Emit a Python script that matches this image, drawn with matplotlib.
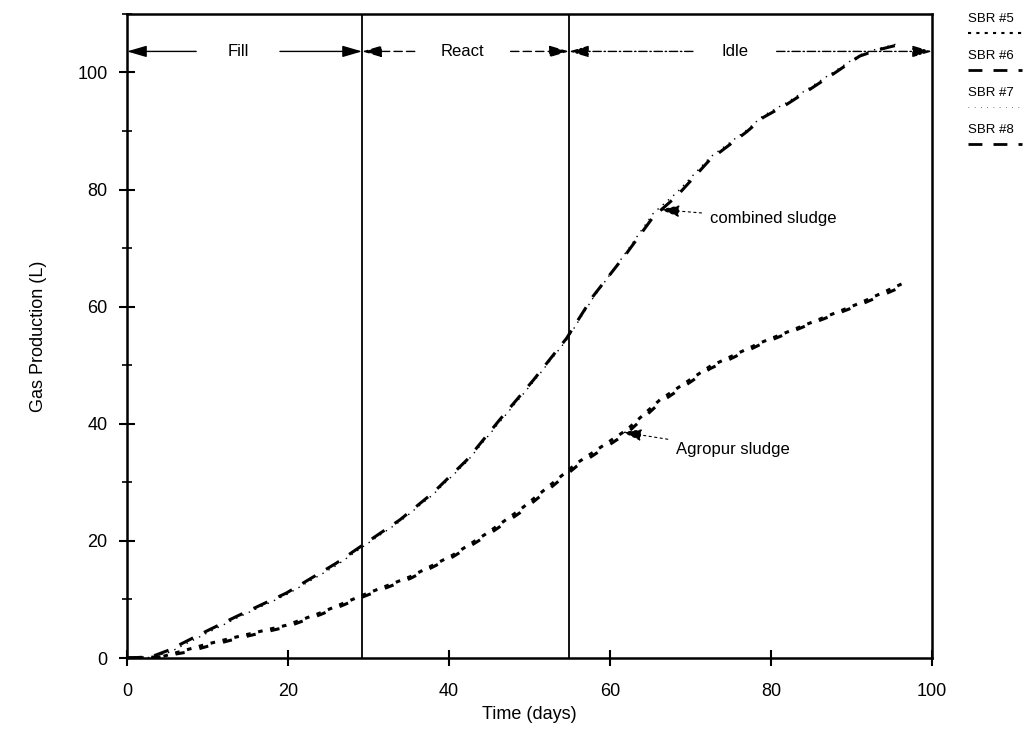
import matplotlib
matplotlib.use("Agg")
import matplotlib.pyplot as plt
from matplotlib.lines import Line2D
from matplotlib.ticker import MultipleLocator

plt.rcParams['font.family'] = ['Liberation Sans', 'DejaVu Sans']

# ---- data ----
days_comb = [0, 3, 5.3, 9, 13.6, 19.8, 26, 29.4, 33.9, 38.0, 42.2, 46.3, 50.5, 54.6, 57.9,
             62.1, 65.4, 68.3, 72.4, 77, 79, 82, 84.8, 88, 91, 93.1, 96]
sbr6 = [0, 0.2, 1.4, 4.0, 7.1, 11.1, 16.2, 19.4, 23.6, 28.2, 33.8, 40.7, 47.5, 54.6, 61.8,
        69.2, 75.4, 78.9, 85.1, 89.9, 92.3, 94.6, 97.1, 100.0, 102.8, 103.8, 104.8]
sbr8 = [0, 0.1, 1.0, 3.6, 6.8, 10.8, 15.8, 19.1, 23.3, 27.9, 33.5, 40.3, 47.2, 54.3, 61.5,
        69.5, 76.0, 79.5, 85.5, 90.2, 92.6, 94.9, 97.4, 100.3, 103.0, 104.0, 105.0]

days_agro = [0, 4, 7.4, 10, 13.6, 19.8, 24, 29.4, 35.2, 40.5, 44.7, 48.8, 52.9, 55.9,
             62.1, 66.2, 72.4, 78.6, 84.8, 91, 96.4]
sbr5 = [0, 0.1, 1.4, 2.4, 3.6, 5.6, 7.7, 10.8, 13.9, 17.6, 21.3, 25.3, 29.9, 33.3,
        39.0, 44.1, 49.8, 53.8, 57.2, 60.6, 64.0]
sbr7 = [0, 0.2, 1.0, 2.0, 3.3, 5.3, 7.4, 10.5, 13.6, 17.3, 20.9, 24.8, 29.4, 32.8,
        38.4, 43.6, 49.4, 53.5, 57.0, 60.3, 63.5]

phase_bounds = [0, 29.2, 54.9, 100]
phase_names = ['Fill', 'React', 'Idle']
phase_text_x = [13.8, 41.7, 75.5]
phase_y = 103.6

x_ticks = [0, 20, 40, 60, 80, 100]
y_ticks = [0, 20, 40, 60, 80, 100]

fig = plt.figure(figsize=(10.34, 7.34), dpi=100)
ax = fig.add_axes([0.1228, 0.1035, 0.9014 - 0.1228, 0.981 - 0.1035])

ax.plot(days_comb, sbr6, color='black', lw=2.2, ls=(0, (5, 4)))
ax.plot(days_comb, sbr8, color='black', lw=1.0, ls=(0, (1, 4)))
ax.plot(days_agro, sbr5, color='black', lw=2.2, ls=(0, (1.5, 2.5)))
ax.plot(days_agro, sbr7, color='black', lw=2.2, ls=(0, (3, 5)))

ax.set_xlim(0, 100)
ax.set_ylim(0, 110)
ax.set_xticks(x_ticks)
ax.set_yticks(y_ticks)
ax.yaxis.set_minor_locator(MultipleLocator(10))
ax.tick_params(axis='both', which='major', direction='inout', length=12, width=1.5,
               labelsize=13, top=False, right=False)
ax.tick_params(axis='y', which='minor', direction='inout', length=7, width=1.2)
ax.tick_params(axis='x', pad=12)
ax.tick_params(axis='y', pad=8)
for s in ax.spines.values():
    s.set_linewidth(1.8)

ax.set_xlabel('Time (days)', fontsize=13, labelpad=4)
ax.set_ylabel('Gas Production (L)', fontsize=13, labelpad=22)

# phase boundaries
for b in phase_bounds[1:3]:
    ax.axvline(b, color='black', lw=1.3)

# phase arrows
styles = ['-', (0, (6, 3)), (0, (6, 2, 1, 2))]
for i, name in enumerate(phase_names):
    x0, x1 = phase_bounds[i], phase_bounds[i + 1]
    xt = phase_text_x[i]
    ax.text(xt, phase_y, name, ha='center', va='center', fontsize=12)
    half = len(name) * 0.75 + 2.2
    for start, end in [(xt - half, x0), (xt + half, x1)]:
        ax.annotate('', xy=(end, phase_y), xytext=(start, phase_y),
                    arrowprops=dict(arrowstyle='-|>,head_length=1.2,head_width=0.35',
                                    color='black', lw=1.0, ls=styles[i],
                                    shrinkA=0, shrinkB=0))

# curve annotations
ax.annotate('combined sludge', xy=(66.2, 76.6), xytext=(72.4, 75.0),
            fontsize=12, va='center', ha='left',
            arrowprops=dict(arrowstyle='-|>,head_length=1.0,head_width=0.3',
                            color='black', lw=0.8, ls=(0, (2, 3)),
                            shrinkA=4, shrinkB=0))
ax.annotate('Agropur sludge', xy=(61.5, 38.6), xytext=(68.2, 35.6),
            fontsize=12, va='center', ha='left',
            arrowprops=dict(arrowstyle='-|>,head_length=1.0,head_width=0.3',
                            color='black', lw=0.8, ls=(0, (2, 3)),
                            shrinkA=4, shrinkB=0))

# legend (outside, top right)
leg_labels = ['SBR #5', 'SBR #6', 'SBR #7', 'SBR #8']
leg_styles = [(0, (1.5, 2.5)), (0, (5, 4)), (0, (1, 8)), (0, (5, 4))]
leg_widths = [1.5, 2.0, 0.5, 2.0]
W, H = 1034, 734
text_y = [19, 56, 93, 130]
for lab, st, lw, ty in zip(leg_labels, leg_styles, leg_widths, text_y):
    fig.text(968 / W, 1 - ty / H, lab, fontsize=9.5, ha='left', va='center')
    fig.add_artist(Line2D([968 / W, 1022 / W], [1 - (ty + 14) / H, 1 - (ty + 14) / H],
                          color='black', lw=lw, ls=st))

fig.savefig('out.png', dpi=100)
